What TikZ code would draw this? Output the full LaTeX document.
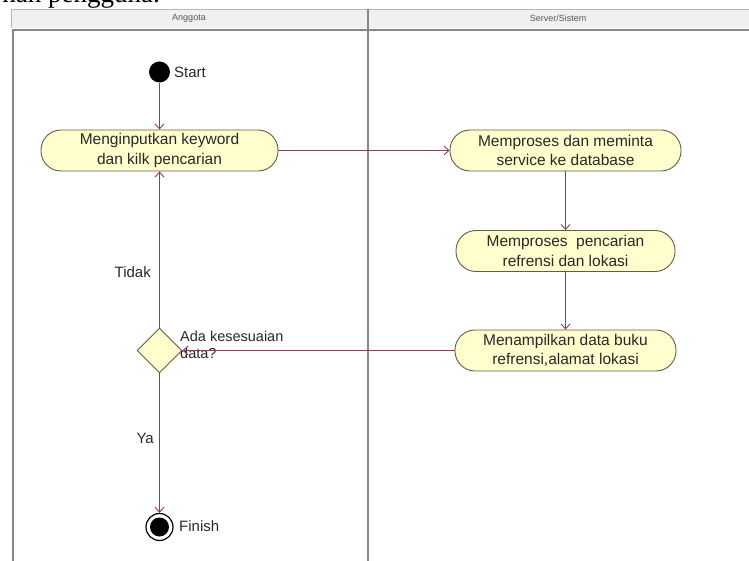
\documentclass[tikz,border=0pt]{standalone}
\usepackage{fontspec}
\setmainfont{Liberation Sans}
\newfontfamily\captionserif{Liberation Serif}
\usetikzlibrary{arrows.meta,shapes.geometric}

\definecolor{flow}{RGB}{150,55,85}
\definecolor{actfill}{RGB}{255,255,206}
\definecolor{actdraw}{RGB}{105,90,70}
\definecolor{lane}{RGB}{135,135,135}
\definecolor{headfill}{RGB}{240,240,240}
\definecolor{txt}{RGB}{40,40,40}

\begin{document}
\begin{tikzpicture}[x=1pt,y=-1pt,
  action/.style={draw=actdraw, fill=actfill, line width=0.9pt,
    rounded corners=20pt, minimum height=41pt, inner sep=0pt,
    align=center, text=txt, font=\fontsize{15.5}{19.5}\selectfont},
  decision/.style={diamond, draw=actdraw, fill=actfill, line width=0.9pt,
    minimum width=45pt, minimum height=45pt, inner sep=0pt},
  label/.style={text=txt, font=\fontsize{15}{19}\selectfont, inner sep=0pt},
  lanetitle/.style={text=black!65, font=\fontsize{9}{10}\selectfont, inner sep=0pt},
  flowline/.style={draw=flow, line width=0.9pt,
    -{Straight Barb[length=5pt,width=9pt,line width=0.9pt]}}
]
\useasboundingbox (0,0) rectangle (749,561);

% caption fragment above the diagram
\node[anchor=base east, inner sep=0pt,
      font=\captionserif\fontsize{27}{27}\selectfont] (caption) at (160,3) {nan pengguna.};

% swimlane frame
\fill[headfill] (11,9) rectangle (749,28);
\draw[lane!60, line width=0.8pt] (11,9) -- (749,9);
\draw[lane!60, line width=0.8pt] (11,9) -- (11,28);
\draw[lane, line width=1.8pt] (12,30) -- (749,30);
\draw[lane, line width=1.3pt] (13,30) -- (13,561);
\draw[lane, line width=1.3pt] (368,9) -- (368,561);
\node[lanetitle] (laneA) at (189,18) {Anggota};
\node[lanetitle] (laneB) at (558,18) {Server/Sistem};

% nodes
\node[circle, fill=black, minimum size=21pt, inner sep=0pt] (start) at (159.5,72) {};
\node[label, anchor=west] (startlbl) at (174,72) {Start};

\node[action, minimum width=237pt] (act1) at (159.5,150.5)
  {Menginputkan keyword\\dan kilk pencarian};
\node[action, minimum width=231pt] (act2) at (565.5,150.5)
  {Memproses dan meminta\\service ke database};
\node[action, minimum width=219pt] (act3) at (565.5,251)
  {Memproses\ \ pencarian\\refrensi dan lokasi};
\node[action, minimum width=221pt] (act4) at (565.5,350.5)
  {Menampilkan data buku\\refrensi,alamat lokasi};

\node[decision] (dec) at (159.5,350.5) {};
\node[label, anchor=west, align=left, font=\fontsize{14.5}{17}\selectfont] (declbl) at (180,345)
  {Ada kesesuaian\\data?};

\node[circle, draw=black, line width=1.2pt, fill=white, minimum size=27pt, inner sep=0pt] (finish) at (159.5,527) {};
\node[circle, fill=black, minimum size=19pt, inner sep=0pt] (finishdot) at (finish) {};
\node[label, anchor=west] (finishlbl) at (179,526) {Finish};

% flows
\path[flowline] (start) -- (act1);
\path[flowline] (act1) -- (act2);
\path[flowline] (act2) -- (act3);
\path[flowline] (act3) -- (act4);
\path[flowline] (act4) -- (dec);
\path[flowline] (dec) -- (act1);
\path[flowline] (dec) -- (finish);
\node[label, anchor=east] (tidak) at (151,272) {Tidak};
\node[label, anchor=east] (ya) at (154,438) {Ya};
\end{tikzpicture}
\end{document}
